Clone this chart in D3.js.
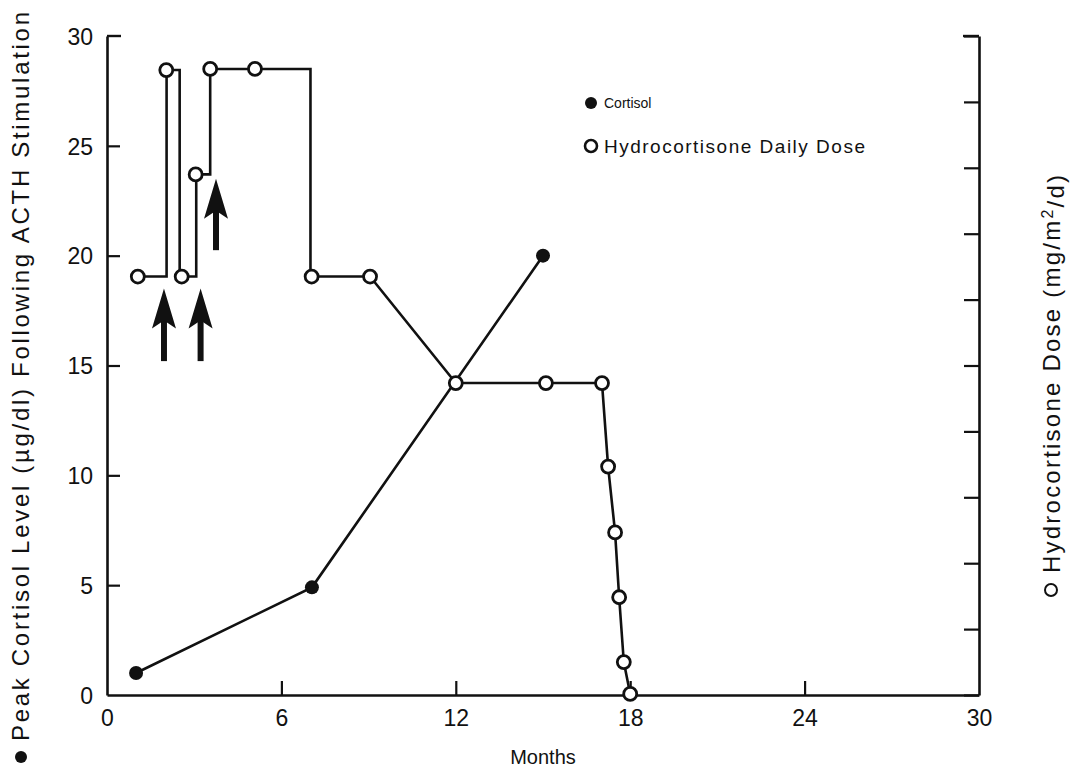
<!DOCTYPE html>
<html>
<head>
<meta charset="utf-8">
<script src="https://cdn.jsdelivr.net/npm/d3@7"></script>
<style>
  html, body { margin: 0; padding: 0; background: #fff; }
  svg { display: block; }
  text { font-family: "Liberation Sans", Arial, sans-serif; fill: #111; }
</style>
</head>
<body>
<svg id="chart" width="1079" height="775"></svg>
<script>
// ---- data ----
const xTicks = [0, 6, 12, 18, 24, 30];
const yTicks = [0, 5, 10, 15, 20, 25, 30];
const rightTicks = [0, 1, 2, 3, 4, 5, 6, 7, 8, 9, 10];

// Cortisol: [months, peak cortisol µg/dl]
const cortisolMonths = [1.0, 7.05, 15.0];
const cortisolValues = [1.0, 4.9, 20.0];

// Hydrocortisone dose step line vertices (plotted on the left-axis scale)
const doseLineMonths = [1.05, 2.05, 2.05, 2.5, 2.5, 3.07, 3.07, 3.55, 3.55, 7.0, 7.0, 9.05, 12.0, 17.03, 17.24, 17.48, 17.62, 17.78, 18.0];
const doseLineValues = [19.05, 19.05, 28.45, 28.45, 19.05, 19.05, 23.7, 23.7, 28.5, 28.5, 19.05, 19.05, 14.2, 14.2, 10.4, 7.4, 4.45, 1.5, 0.05];

// Hydrocortisone dose open-circle markers
const doseMonths = [1.06, 2.04, 2.57, 3.05, 3.55, 5.09, 7.04, 9.05, 12.0, 15.1, 17.03, 17.24, 17.48, 17.62, 17.78, 18.0];
const doseValues = [19.05, 28.45, 19.05, 23.7, 28.5, 28.5, 19.05, 19.05, 14.2, 14.2, 14.2, 10.4, 7.4, 4.45, 1.5, 0.05];

// Arrows marking dose changes: [months, tail value, tip value]
const arrowMonths = [1.96, 3.22, 3.75];
const arrowTails = [15.2, 15.2, 20.25];
const arrowTips = [18.5, 18.5, 23.5];

const legendLabels = ["Cortisol", "Hydrocortisone Daily Dose"];
const leftTitle = "Peak Cortisol Level (\u00b5g/dl) Following ACTH Stimulation";
const rightTitleParts = ["Hydrocortisone Dose (mg/m", "2", "/d)"];
const xTitle = "Months";

// ---- layout ----
const svg = d3.select("#chart");
const mLeft = 107, mRight = 979, mTop = 36, mBottom = 695;

const x = d3.scaleLinear().domain([0, 30]).range([mLeft, mRight]);
const y = d3.scaleLinear().domain([0, 30]).range([mBottom, mTop]);
const y2 = d3.scaleLinear().domain([0, 10]).range([mBottom, mTop]);

const ink = "#111";

// axes
const gx = svg.append("g").attr("transform", `translate(0,${mBottom})`)
  .call(d3.axisBottom(x).tickValues(xTicks).tickSizeInner(-14).tickSizeOuter(0).tickPadding(15).tickFormat(d3.format("d")));
const gy = svg.append("g").attr("transform", `translate(${mLeft},0)`)
  .call(d3.axisLeft(y).tickValues(yTicks).tickSizeInner(-13).tickSizeOuter(0).tickPadding(14).tickFormat(d3.format("d")));
const gr = svg.append("g").attr("transform", `translate(${mRight},0)`)
  .call(d3.axisRight(y2).tickValues(rightTicks).tickSizeInner(-15).tickSizeOuter(0).tickFormat(""));

[gx, gy, gr].forEach(g => {
  g.select(".domain").attr("stroke", ink).attr("stroke-width", 2.6);
  g.selectAll(".tick line").attr("stroke", ink).attr("stroke-width", 2.2);
  g.selectAll(".tick text").style("font-size", "23px").style("font-family", "'Liberation Sans', Arial, sans-serif").attr("fill", ink);
});
gx.selectAll(".tick").filter(d => d === 0 || d === 30).select("line").remove();
gy.selectAll(".tick").filter(d => d === 0 || d === 30).select("line").remove();
gy.selectAll(".tick text").attr("dy", "0.36em");
// small caps at the top of the two vertical axes
svg.append("line").attr("x1", mLeft).attr("x2", mLeft + 14).attr("y1", mTop).attr("y2", mTop).attr("stroke", ink).attr("stroke-width", 2.4);
svg.append("line").attr("x1", mRight - 16).attr("x2", mRight).attr("y1", mTop).attr("y2", mTop).attr("stroke", ink).attr("stroke-width", 2.4);

// cortisol line
const cortisol = cortisolMonths.map((m, i) => ({ m, v: cortisolValues[i] }));
const lineGen = d3.line().x(d => x(d.m)).y(d => y(d.v));
svg.append("path").datum(cortisol).attr("d", lineGen)
  .attr("fill", "none").attr("stroke", ink).attr("stroke-width", 2.6);

// dose step line
const doseLine = doseLineMonths.map((m, i) => ({ m, v: doseLineValues[i] }));
svg.append("path").datum(doseLine).attr("d", lineGen)
  .attr("fill", "none").attr("stroke", ink).attr("stroke-width", 2.6).attr("stroke-linejoin", "miter");

// cortisol markers
svg.append("g").selectAll("circle").data(cortisol).join("circle")
  .attr("cx", d => x(d.m)).attr("cy", d => y(d.v)).attr("r", 7)
  .attr("fill", ink);

// dose markers
const dose = doseMonths.map((m, i) => ({ m, v: doseValues[i] }));
svg.append("g").selectAll("circle").data(dose).join("circle")
  .attr("cx", d => x(d.m)).attr("cy", d => y(d.v)).attr("r", 6.5)
  .attr("fill", "#fff").attr("stroke", ink).attr("stroke-width", 2.8);

// arrows
const arrows = arrowMonths.map((m, i) => ({ m, t: arrowTails[i], h: arrowTips[i] }));
const ag = svg.append("g");
arrows.forEach(a => {
  const cx = x(a.m), ty = y(a.h), by = y(a.t);
  ag.append("line").attr("x1", cx).attr("x2", cx).attr("y1", ty + 20).attr("y2", by)
    .attr("stroke", ink).attr("stroke-width", 6);
  ag.append("path")
    .attr("d", `M${cx},${ty} L${cx + 12},${ty + 40} L${cx},${ty + 32} L${cx - 12},${ty + 40} Z`)
    .attr("fill", ink);
});

// legend
const lg = svg.append("g");
lg.append("circle").attr("cx", 591).attr("cy", 103).attr("r", 6).attr("fill", ink);
lg.append("text").attr("x", 604).attr("y", 108).style("font-size", "14px").text(legendLabels[0]);
lg.append("circle").attr("cx", 591).attr("cy", 146).attr("r", 6).attr("fill", "#fff").attr("stroke", ink).attr("stroke-width", 2.6);
lg.append("text").attr("x", 604).attr("y", 153).style("font-size", "19px")
  .attr("textLength", 261).attr("lengthAdjust", "spacing").text(legendLabels[1]);

// titles
svg.append("text").attr("x", x(15)).attr("y", 764).attr("text-anchor", "middle")
  .style("font-size", "20px").text(xTitle);

svg.append("circle").attr("cx", 21).attr("cy", 757).attr("r", 6).attr("fill", ink);
svg.append("text").attr("transform", "translate(29,741) rotate(-90)")
  .attr("text-anchor", "start").style("font-size", "24px")
  .attr("textLength", 729).attr("lengthAdjust", "spacing").text(leftTitle);

svg.append("circle").attr("cx", 1051).attr("cy", 590).attr("r", 6).attr("fill", "#fff").attr("stroke", ink).attr("stroke-width", 2);
const rt = svg.append("text").attr("transform", "translate(1060,573) rotate(-90)")
  .attr("text-anchor", "start").style("font-size", "24px")
  .attr("textLength", 398).attr("lengthAdjust", "spacing");
rt.append("tspan").text(rightTitleParts[0]);
rt.append("tspan").attr("dy", "-0.45em").style("font-size", "16px").text(rightTitleParts[1]);
rt.append("tspan").attr("dy", "0.45em").text(rightTitleParts[2]);
</script>
</body>
</html>
